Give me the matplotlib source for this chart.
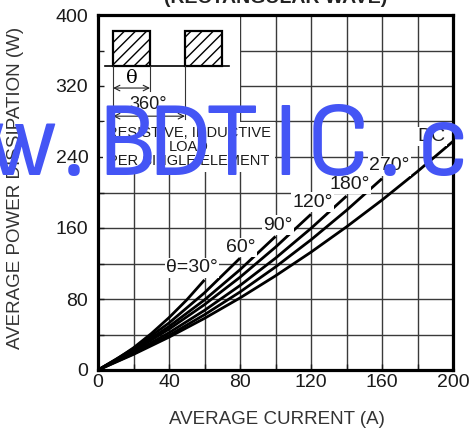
import matplotlib
matplotlib.use("Agg")
import matplotlib.pyplot as plt
from matplotlib.patches import Rectangle
from matplotlib import font_manager
import numpy as np

plt.rcParams['font.family'] = ['Liberation Sans', 'DejaVu Sans']

# average current (A) / average power (W)
i_30 = [0, 10, 20, 30, 40, 50, 60]
p_30 = [0, 11.5, 25, 41, 59, 79, 101.5]
i_60 = [0, 20, 40, 60, 80]
p_60 = [0, 24, 53, 87, 126]
i_90 = [0, 20, 40, 60, 80, 100]
p_90 = [0, 22.6, 49, 79, 113, 150.5]
i_120 = [0, 20, 40, 60, 80, 100, 120]
p_120 = [0, 21.4, 46, 73.7, 104.5, 138.4, 175.5]
i_180 = [0, 20, 40, 60, 80, 100, 120, 140]
p_180 = [0, 19.6, 42, 67.2, 95.2, 126, 159.6, 196]
i_270 = [0, 20, 40, 60, 80, 100, 120, 140, 160]
p_270 = [0, 18.3, 39, 62.3, 87.9, 116.1, 146.7, 179.9, 215.6]
i_dc = [0, 20, 40, 60, 80, 100, 120, 140, 160, 180, 200]
p_dc = [0, 17.6, 37, 58.2, 81.2, 106.1, 132.8, 161.3, 191.5, 223.7, 257.6]

curve_labels = ['θ=30°', '60°', '90°', '120°', '180°', '270°', 'DC']
label_xy = [(53, 115), (80.5, 138), (101.5, 163), (120.7, 189),
            (141.7, 209), (164.2, 230), (188, 263)]

x_ticks = [0, 40, 80, 120, 160, 200]
y_ticks = [0, 80, 160, 240, 320, 400]

fig = plt.figure(figsize=(4.7, 4.34), dpi=100)
ax = fig.add_axes([98 / 470, 1 - 370 / 434, 355 / 470, 355 / 434])
ax.set_xlim(0, 200)
ax.set_ylim(0, 400)

grid_c = '#3a3a3a'
ax.vlines(np.arange(20, 200, 20), 0, 400, colors=grid_c, lw=1.0, zorder=1)
ax.hlines(np.arange(40, 400, 40), 0, 200, colors=grid_c, lw=1.0, zorder=1)
# white area behind the waveform sketch
ax.add_patch(Rectangle((0, 228), 80, 172, facecolor='white', edgecolor='none', zorder=1.5))
ax.set_axisbelow(False)

for xs, ys in [(i_30, p_30), (i_60, p_60), (i_90, p_90), (i_120, p_120),
               (i_180, p_180), (i_270, p_270), (i_dc, p_dc)]:
    ax.plot(xs, ys, color='black', lw=2.0, zorder=3, solid_capstyle='butt')

for lab, (lx, ly) in zip(curve_labels, label_xy):
    ax.text(lx, ly, lab, fontsize=14, color='#1a1a1a', ha='center', va='center', zorder=4,
            bbox=dict(facecolor='white', edgecolor='none', pad=1.0))

# waveform sketch
for x0 in [8.5, 49]:
    ax.add_patch(Rectangle((x0, 342.5), 20.8, 39.5, facecolor='white', edgecolor='black',
                           hatch='///', lw=1.6, zorder=3))
ax.plot([3.9, 73.8], [342.5, 342.5], color='black', lw=1.2, zorder=3)
ax.plot([8.5, 8.5], [342.5, 283], color='#333333', lw=0.8, zorder=3)
ax.plot([29.3, 29.3], [342.5, 314], color='#333333', lw=0.8, zorder=3)
ax.plot([49, 49], [342.5, 283], color='#333333', lw=0.8, zorder=3)
ax.annotate('', xy=(8.5, 317.7), xytext=(29.3, 317.7),
            arrowprops=dict(arrowstyle='<->', lw=0.8, color='#222222', shrinkA=0, shrinkB=0), zorder=3)
ax.annotate('', xy=(8.5, 286), xytext=(49, 286),
            arrowprops=dict(arrowstyle='<->', lw=0.8, color='#222222', shrinkA=0, shrinkB=0), zorder=3)
ax.text(19.2, 329, 'θ', fontsize=14, family=['DejaVu Serif'], ha='center', va='center', zorder=4)
ax.text(28.2, 299, '360°', fontsize=13, color='#1a1a1a', ha='center', va='center', zorder=4)
ax.text(51.3, 251, 'RESISTIVE, INDUCTIVE\nLOAD\nPER SINGLE ELEMENT', fontsize=10.5,
        color='#1a1a1a', ha='center', va='center', multialignment='center', linespacing=1.0,
        zorder=4, bbox=dict(facecolor='white', edgecolor='none', pad=3))

ax.set_xticks(x_ticks)
ax.set_yticks(y_ticks)
ax.set_xticks(np.arange(20, 200, 40), minor=True)
ax.set_yticks(np.arange(40, 400, 80), minor=True)
ax.tick_params(which='both', direction='in', length=4, width=1.0, colors='#1a1a1a',
               labelsize=14, top=False, right=False)
ax.tick_params(axis='x', pad=3)
ax.tick_params(axis='y', pad=7)
for sp in ax.spines.values():
    sp.set_linewidth(2.3)
    sp.set_zorder(5)

fig.text(16 / 470, 1 - 188 / 434, 'AVERAGE POWER DISSIPATION (W)', rotation=90,
         fontsize=13.5, color='#333333', ha='center', va='center')
fig.text(277 / 470, 1 - 420 / 434, 'AVERAGE CURRENT (A)', fontsize=13.5,
         color='#333333', ha='center', va='center')
fig.text(276 / 470, 1 - 3 / 434, '(RECTANGULAR WAVE)', fontsize=14, fontweight='bold',
         color='#222222', ha='center', va='baseline')

# watermark, one glyph per cell; prefer a narrow sans face if one is installed
wm_prop = None
for f in font_manager.fontManager.ttflist:
    narrow = ('Narrow' in f.name or 'Condensed' in f.name
              or f.stretch in ('condensed', 'semi-condensed', 'extra-condensed'))
    if narrow and 'Sans' in f.name and f.style == 'normal' and f.weight in (400, 'normal', 'regular', 'book'):
        wm_prop = font_manager.FontProperties(fname=f.fname, size=77)
        if 'Liberation' in f.name:
            break
if wm_prop is None:
    wm_prop = font_manager.FontProperties(family='Liberation Sans', size=62)

wm_chars = list('www.BDTIC.com')
for k, ch in enumerate(wm_chars):
    cx = 74 + 52.7 * (k - 3)
    fig.text(cx / 470, 1 - 175 / 434, ch, fontproperties=wm_prop, color='#4455f5',
             ha='center', va='baseline', zorder=10)

fig.savefig('out.png', dpi=100)
